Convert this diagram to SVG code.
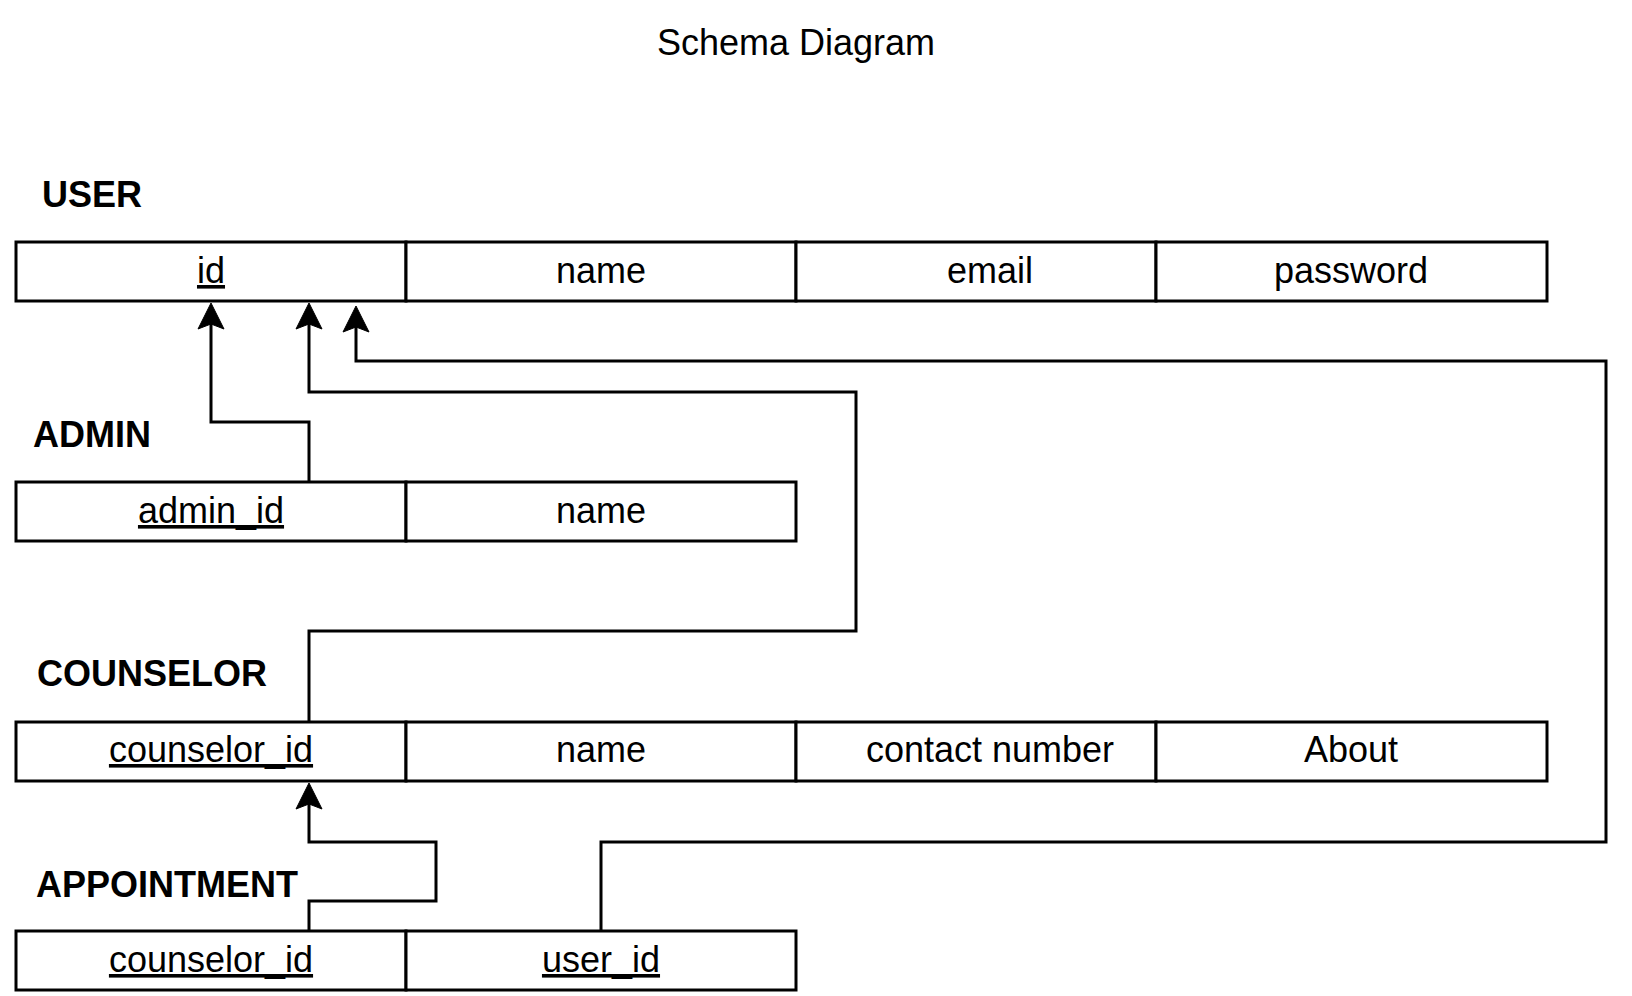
<svg xmlns="http://www.w3.org/2000/svg" width="1632" height="996" viewBox="0 0 1632 996">
<style>
  .cell { fill: #ffffff; stroke: #000000; stroke-width: 3; }
  .txt { font-family: "Liberation Sans", Arial, sans-serif; font-size: 36px; fill: #000000; text-anchor: middle; }
  .key { text-decoration: underline; }
  .lbl { font-family: "Liberation Sans", Arial, sans-serif; font-size: 36px; font-weight: bold; fill: #000000; }
  .title { font-family: "Liberation Sans", Arial, sans-serif; font-size: 36px; fill: #000000; text-anchor: middle; }
  .conn { fill: none; stroke: #000000; stroke-width: 3; marker-end: url(#arrow); }
</style>
<defs>
  <marker id="arrow" markerUnits="userSpaceOnUse" markerWidth="26" markerHeight="26" refX="5" refY="13" orient="auto" overflow="visible">
    <path d="M0,0 L26,13 L0,26 L5,13 Z" fill="#000000" stroke="#000000" stroke-width="1"/>
  </marker>
</defs>
<rect width="1632" height="996" fill="#ffffff"/>

<text class="title" x="796" y="55">Schema Diagram</text>

<g id="user">
  <text class="lbl" x="42" y="207">USER</text>
  <rect class="cell" x="16" y="242" width="390" height="59"/>
  <rect class="cell" x="406" y="242" width="390" height="59"/>
  <rect class="cell" x="796" y="242" width="360" height="59"/>
  <rect class="cell" x="1156" y="242" width="391" height="59"/>
  <text class="txt key" x="211" y="283">id</text>
  <text class="txt" x="601" y="283">name</text>
  <text class="txt" x="990" y="283">email</text>
  <text class="txt" x="1351" y="283">password</text>
</g>

<g id="admin">
  <text class="lbl" x="33" y="447">ADMIN</text>
  <rect class="cell" x="16" y="482" width="390" height="59"/>
  <rect class="cell" x="406" y="482" width="390" height="59"/>
  <text class="txt key" x="211" y="523">admin_id</text>
  <text class="txt" x="601" y="523">name</text>
</g>

<g id="counselor">
  <text class="lbl" x="37" y="686">COUNSELOR</text>
  <rect class="cell" x="16" y="722" width="390" height="59"/>
  <rect class="cell" x="406" y="722" width="390" height="59"/>
  <rect class="cell" x="796" y="722" width="360" height="59"/>
  <rect class="cell" x="1156" y="722" width="391" height="59"/>
  <text class="txt key" x="211" y="762">counselor_id</text>
  <text class="txt" x="601" y="762">name</text>
  <text class="txt" x="990" y="762">contact number</text>
  <text class="txt" x="1351" y="762">About</text>
</g>

<g id="appointment">
  <text class="lbl" x="36" y="897">APPOINTMENT</text>
  <rect class="cell" x="16" y="931" width="390" height="59"/>
  <rect class="cell" x="406" y="931" width="390" height="59"/>
  <text class="txt key" x="211" y="972">counselor_id</text>
  <text class="txt key" x="601" y="972">user_id</text>
</g>

<g id="connectors">
  <path class="conn" d="M309,482 V422 H211 V324"/>
  <path class="conn" d="M309,722 V631 H856 V392 H309 V324"/>
  <path class="conn" d="M601,931 V842 H1606 V361 H356 V327"/>
  <path class="conn" d="M309,931 V901 H436 V842 H309 V804"/>
</g>
</svg>
